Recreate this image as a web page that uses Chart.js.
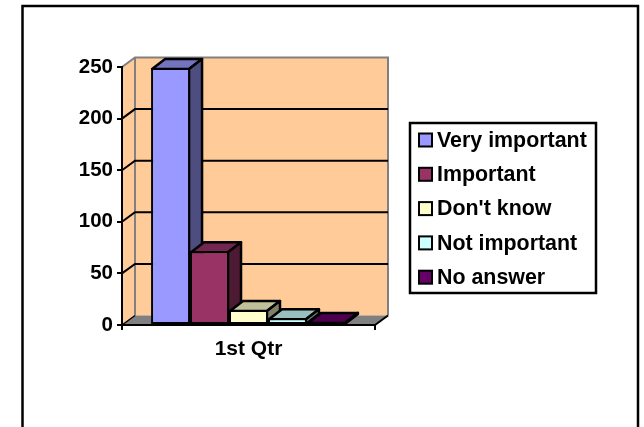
<!DOCTYPE html>
<html>
<head>
<meta charset="utf-8">
<title>1st Qtr</title>
<script src="https://cdn.jsdelivr.net/npm/chart.js@4/dist/chart.umd.min.js"></script>
<style>
  html, body { margin: 0; padding: 0; background: #fff; overflow: hidden; }
  canvas { display: block; }
</style>
</head>
<body>
<canvas id="qtrChart" width="644" height="427"></canvas>
<script>
const categories = ["1st Qtr"];
const seriesNames = ["Very important", "Important", "Don't know", "Not important", "No answer"];
const seriesValues = [249, 71.5, 14.5, 6.5, 3];
const yMax = 250;
const yStep = 50;

const frontColors = ["#9999FF", "#993366", "#FFFFCC", "#CCFFFF", "#660066"];
const topColors = ["#7373BF", "#732650", "#BFBF99", "#99BFBF", "#4D004D"];
const sideColors = ["#4D4D80", "#4D1A33", "#808066", "#668080", "#330033"];

const fontFamily = "'Liberation Sans', Arial, sans-serif";

// depth of the fake 3d box, and of the bars standing in it
const wallDx = 13, wallDy = 9.5;
const barDx = 13, barDy = 10;

function line(ctx, points, color, width) {
  ctx.beginPath();
  points.forEach((p, i) => (i ? ctx.lineTo(p[0], p[1]) : ctx.moveTo(p[0], p[1])));
  ctx.strokeStyle = color;
  ctx.lineWidth = width;
  ctx.stroke();
}

function poly(ctx, points, fill) {
  ctx.beginPath();
  points.forEach((p, i) => (i ? ctx.lineTo(p[0], p[1]) : ctx.moveTo(p[0], p[1])));
  ctx.closePath();
  ctx.fillStyle = fill;
  ctx.fill();
}

function polyStroked(ctx, points, fill) {
  poly(ctx, points, fill);
  ctx.strokeStyle = "#000";
  ctx.lineWidth = 2.5;
  ctx.lineJoin = "round";
  ctx.stroke();
}

const box3d = {
  id: "box3d",
  beforeDraw(chart) {
    const ctx = chart.ctx;
    const { left, right, top, bottom } = chart.chartArea;
    const yScale = chart.scales.y;

    // outer frame, runs off the bottom of the picture
    line(ctx, [[22.5, 427], [22.5, 6], [638, 6], [638, 427]], "#000", 2.5);

    ctx.save();
    ctx.lineJoin = "miter";
    // side wall and back wall
    poly(ctx, [[left, top], [left + wallDx, top - wallDy], [left + wallDx, bottom - wallDy], [left, bottom]], "#FFCC99");
    poly(ctx, [[left + wallDx, top - wallDy], [right + wallDx, top - wallDy], [right + wallDx, bottom - wallDy], [left + wallDx, bottom - wallDy]], "#FFCC99");
    // floor
    poly(ctx, [[left, bottom], [left + wallDx, bottom - wallDy], [right + wallDx, bottom - wallDy], [right, bottom]], "#808080");

    line(ctx, [[left, top], [left + wallDx, top - wallDy], [right + wallDx, top - wallDy], [right + wallDx, bottom - wallDy]], "#808080", 2);
    line(ctx, [[left + wallDx, top - wallDy], [left + wallDx, bottom - wallDy]], "#808080", 2);

    // grid lines go round the corner of the box
    yScale.ticks.forEach((t) => {
      if (t.value === 0 || t.value === yMax) return;
      const y = yScale.getPixelForValue(t.value);
      line(ctx, [[left, y], [left + wallDx, y - wallDy], [right + wallDx, y - wallDy]], "#000", 2);
    });
    line(ctx, [[left, bottom], [left + wallDx, bottom - wallDy]], "#000", 1.5);
    line(ctx, [[right, bottom], [right + wallDx, bottom - wallDy]], "#000", 2);
    ctx.restore();
  },
  // bars have to go left to right so each front covers the side of the one before
  beforeDatasetsDraw(chart) {
    const ctx = chart.ctx;
    seriesNames.forEach((_, i) => {
      const meta = chart.getDatasetMeta(i);
      const bar = meta.data[0];
      const p = bar.getProps(["x", "y", "base", "width"]);
      // chart.js draws the border inside the bar, so go from the border's centre
      const l = p.x - p.width / 2 + 1, r = p.x + p.width / 2 - 1, y = p.y + 1;
      ctx.save();
      polyStroked(ctx, [[l, y], [l + barDx, y - barDy], [r + barDx, y - barDy], [r, y]], topColors[i]);
      polyStroked(ctx, [[r, y], [r + barDx, y - barDy], [r + barDx, p.base - barDy], [r, p.base]], sideColors[i]);
      ctx.restore();
      meta.controller.draw();
    });
  },
  beforeDatasetDraw() {
    return false;
  },
  afterDraw(chart) {
    const ctx = chart.ctx;
    ctx.save();
    ctx.fillStyle = "#fff";
    ctx.fillRect(410, 123, 186, 170);
    ctx.strokeStyle = "#000";
    ctx.lineWidth = 2.5;
    ctx.strokeRect(410, 123, 186, 170);
    ctx.font = "bold 21.4px " + fontFamily;
    ctx.textBaseline = "middle";
    seriesNames.forEach((name, i) => {
      const y = 140 + i * 34.3;
      ctx.fillStyle = frontColors[i];
      ctx.fillRect(419, y - 6.5, 13, 13);
      ctx.strokeStyle = "#000";
      ctx.lineWidth = 2;
      ctx.strokeRect(419, y - 6.5, 13, 13);
      ctx.fillStyle = "#000";
      ctx.fillText(name, 437, y + 1);
    });
    ctx.restore();
  },
};

new Chart(document.getElementById("qtrChart"), {
  type: "bar",
  data: {
    labels: categories,
    datasets: seriesNames.map((name, i) => ({
      label: name,
      data: [seriesValues[i]],
      backgroundColor: frontColors[i],
      borderColor: "#000",
      borderWidth: 2,
      borderSkipped: false,
      categoryPercentage: 0.77,
      barPercentage: 1,
    })),
  },
  options: {
    responsive: false,
    animation: false,
    layout: { padding: { top: 67, right: 269, left: 0, bottom: 0 } },
    plugins: { legend: { display: false }, tooltip: { enabled: false } },
    scales: {
      x: {
        afterFit(scale) { scale.height = 102; },
        border: { color: "#000", width: 2 },
        grid: { drawOnChartArea: false, drawTicks: true, tickLength: 5, color: "#000", lineWidth: 2 },
        ticks: { color: "#000", font: { family: fontFamily, size: 21, weight: "bold" }, padding: 7, maxRotation: 0 },
      },
      y: {
        min: 0,
        max: yMax,
        afterFit(scale) { scale.width = 122; },
        border: { color: "#000", width: 2 },
        grid: { drawOnChartArea: false, drawTicks: true, tickLength: 5, color: "#000", lineWidth: 2 },
        ticks: { stepSize: yStep, color: "#000", font: { family: fontFamily, size: 20.5, weight: "bold" }, padding: 4 },
      },
    },
  },
  plugins: [box3d],
});
</script>
</body>
</html>
